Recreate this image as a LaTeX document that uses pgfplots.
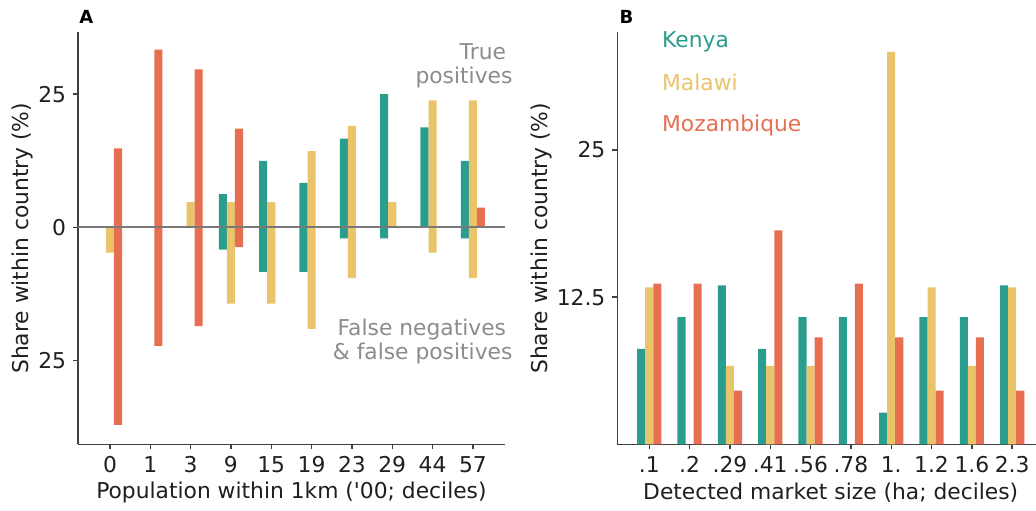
\documentclass[border=0pt]{standalone}
\usepackage{pgfplots}
\pgfplotsset{compat=1.18}
\usepackage{fontspec}
\setmainfont{DejaVu Sans}
\definecolor{kenya}{HTML}{2A9D8F}
\definecolor{malawi}{HTML}{E9C46A}
\definecolor{moz}{HTML}{E76F51}
\definecolor{spine}{HTML}{404040}
\definecolor{annot}{HTML}{8C8C8C}
\newcommand{\fs}{\fontsize{10.9}{13}\selectfont}
\begin{document}
\begin{tikzpicture}[font=\fs]
\pgfplotsset{
  common/.style={
    scale only axis, width=213.3pt, height=206pt,
    xmin=-0.79, xmax=9.79,
    axis lines*=left,
    axis line style={-, draw=spine, line width=0.7pt},
    tick align=outside, major tick length=2.5pt,
    tick style={draw=spine, line width=0.7pt},
    xtick={0,...,9},
    tick label style={font=\fs, text=black!88},
    label style={font=\fs, text=black!88},
    xlabel style={at={(axis description cs:0.5,-0.1175)}, anchor=center},
    clip=false,
  },
  kb/.style={ybar, bar width=0.2, bar shift=-0.2, fill=kenya, draw=none},
  mb/.style={ybar, bar width=0.2, bar shift=0, fill=malawi, draw=none},
  zb/.style={ybar, bar width=0.2, bar shift=0.2, fill=moz, draw=none},
}
% Panel A
\begin{axis}[common, at={(39.05pt,32.85pt)}, anchor=south west,
  ymin=-40.7, ymax=36.6,
  ytick={-25,0,25}, yticklabels={25,0,25},
  xticklabels={0,1,3,9,15,19,23,29,44,57},
  xlabel={Population within 1km (\textquotesingle 00; deciles)},
  ylabel={Share within country (\%)},
  ylabel style={at={(axis description cs:-0.131,0.5)}, anchor=center, rotate=0},
]
\addplot[kb] coordinates {(3,6.25) (4,12.5) (5,8.33) (6,16.67) (7,25) (8,18.75) (9,12.5)};
\addplot[kb] coordinates {(3,-4.17) (4,-8.33) (5,-8.33) (6,-2.08) (7,-2.08) (9,-2.08)};
\addplot[mb] coordinates {(2,4.76) (3,4.76) (4,4.76) (5,14.29) (6,19.05) (7,4.76) (8,23.81) (9,23.81)};
\addplot[mb] coordinates {(0,-4.76) (3,-14.29) (4,-14.29) (5,-19.05) (6,-9.52) (8,-4.76) (9,-9.52)};
\addplot[zb] coordinates {(0,14.81) (1,33.33) (2,29.63) (3,18.52) (9,3.70)};
\addplot[zb] coordinates {(0,-37.04) (1,-22.22) (2,-18.52) (3,-3.70)};
\addplot[draw=gray!95!black, line width=1pt, mark=none] coordinates {(-0.79,0) (9.79,0)};
\node[annot, anchor=base east, inner sep=0] at (axis description cs:1.004,0.933) {True};
\node[annot, anchor=base east, inner sep=0] at (axis description cs:1.019,0.876) {positives};
\node[annot, anchor=base east, inner sep=0] at (axis description cs:1.004,0.263) {False negatives};
\node[annot, anchor=base east, inner sep=0] at (axis description cs:1.019,0.205) {\& false positives};
\node[anchor=base west, inner sep=0, font=\fontsize{9}{10}\selectfont\bfseries] at (axis description cs:0.002,1.022) {A};
\end{axis}
% Panel B
\begin{axis}[common, at={(308.7pt,32.85pt)}, anchor=south west,
  ymin=0, ymax=35.0,
  ytick={12.5,25}, yticklabels={12.5,25},
  xticklabels={.1,.2,.29,.41,.56,.78,1.,1.2,1.6,2.3},
  xlabel={Detected market size (ha; deciles)},
  ylabel={Share within country (\%)},
  ylabel style={at={(axis description cs:-0.179,0.5)}, anchor=center, rotate=0},
]
\addplot[kb] coordinates {(0,8.11) (1,10.81) (2,13.51) (3,8.11) (4,10.81) (5,10.81) (6,2.70) (7,10.81) (8,10.81) (9,13.51)};
\addplot[mb] coordinates {(0,13.33) (2,6.67) (3,6.67) (4,6.67) (6,33.33) (7,13.33) (8,6.67) (9,13.33)};
\addplot[zb] coordinates {(0,13.64) (1,13.64) (2,4.55) (3,18.18) (4,9.09) (5,13.64) (6,9.09) (7,4.55) (8,9.09) (9,4.55)};
\node[kenya, anchor=west, inner sep=0] at (axis description cs:0.104,0.977) {Kenya};
\node[malawi, anchor=west, inner sep=0] at (axis description cs:0.104,0.878) {Malawi};
\node[moz, anchor=west, inner sep=0] at (axis description cs:0.104,0.775) {Mozambique};
\node[anchor=base west, inner sep=0, font=\fontsize{9}{10}\selectfont\bfseries] at (axis description cs:0.004,1.022) {B};
\end{axis}
\pgfresetboundingbox
\path[use as bounding box] (0,0) rectangle (518pt,255pt);
\end{tikzpicture}
\end{document}
